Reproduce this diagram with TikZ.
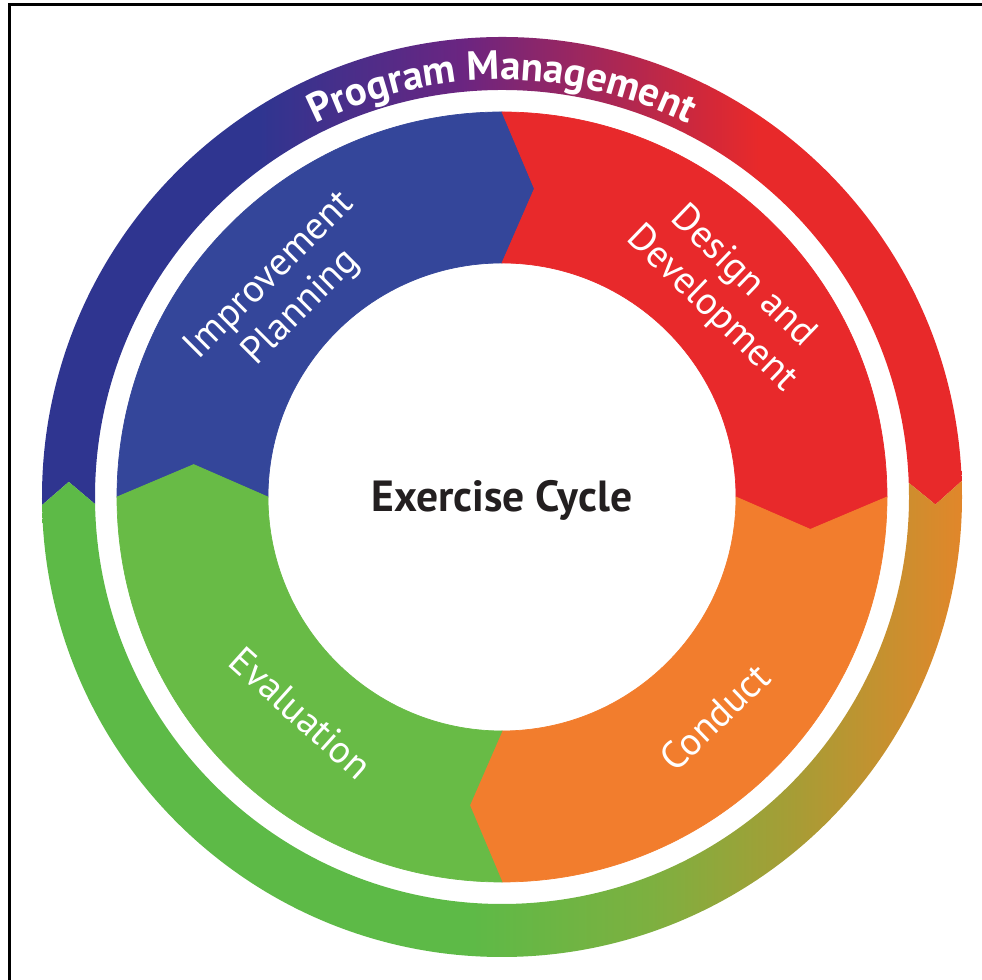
\documentclass[tikz,border=0pt]{standalone}
\usepackage{fontspec}
\setmainfont{PT Sans}
\usetikzlibrary{decorations.text}
\definecolor{ipblue}{HTML}{34469A}
\definecolor{ddred}{HTML}{E8292B}
\definecolor{cdorange}{HTML}{F27D2D}
\definecolor{evgreen}{HTML}{68BB46}
\definecolor{pmblue}{HTML}{2F3590}
\definecolor{pmpurple}{HTML}{6B2581}
\definecolor{pmred}{HTML}{E8292A}
\definecolor{pmgreen}{HTML}{5DBA47}
\definecolor{pmlime}{HTML}{7DB040}
\definecolor{pmolive}{HTML}{A89C35}
\definecolor{pmorange}{HTML}{E2862A}
\definecolor{cycletext}{HTML}{231F20}
\pgfdeclarehorizontalshading{pmtop}{100bp}{color(0bp)=(pmblue); color(37bp)=(pmblue); color(48bp)=(pmpurple); color(64bp)=(pmred); color(100bp)=(pmred)}
\pgfdeclarehorizontalshading{pmbottom}{100bp}{color(0bp)=(pmgreen); color(48bp)=(pmgreen); color(58bp)=(pmlime); color(66bp)=(pmolive); color(75bp)=(pmorange); color(100bp)=(pmorange)}
\newcommand\cycleseg[2]{%
  \filldraw[fill=#2, draw=#2, line width=0.2pt] (#1:385) arc[start angle=#1, end angle=#1-90, radius=385] -- (#1-96:310) -- (#1-90:234)
    arc[start angle=#1-90, end angle=#1, radius=234] -- (#1-6:310) -- cycle;}
\tikzset{seglabel/.style={text=white, align=center, inner sep=0pt, font=\fontsize{11}{12.8}\selectfont}}

\begin{document}
\begin{tikzpicture}[x=0.01cm, y=0.01cm]
\useasboundingbox (-502,-483) rectangle (480,497);
\draw[line width=0.85pt] (-492.5,-483) -- (-492.5,492.3) -- (480,492.3);

\shade[shading=pmtop] (181:460) arc[start angle=181, end angle=2, radius=460] -- (-1:433.5) -- (2:407)
  arc[start angle=2, end angle=181, radius=407] -- (178:433.5) -- cycle;
\shade[shading=pmbottom] (181:460) arc[start angle=181, end angle=362, radius=460] -- (-1:433.5) -- (2:407)
  arc[start angle=362, end angle=181, radius=407] -- (178:433.5) -- cycle;
\path[decorate, decoration={text along path, text align=center, text color=white,
  text={|\fontsize{11.6}{13}\selectfont\bfseries|Program Management}}]
  (160:417) arc[start angle=160, end angle=20, radius=417];

\cycleseg{180}{ipblue}
\cycleseg{90}{ddred}
\cycleseg{0}{cdorange}
\cycleseg{270}{evgreen}

\node[seglabel, rotate=45] (impr) at (-216,205) {Improvement\\Planning};
\node[seglabel, rotate=-44] (design) at (225,204) {Design and\\Development};
\node[seglabel, rotate=-42] (eval) at (-201,-216) {Evaluation};
\node[seglabel, rotate=44] (conduct) at (213,-220) {Conduct};
\node[text=cycletext, font=\fontsize{12.4}{14}\selectfont\bfseries] (cycle) at (0,-3) {Exercise Cycle};
\end{tikzpicture}
\end{document}
